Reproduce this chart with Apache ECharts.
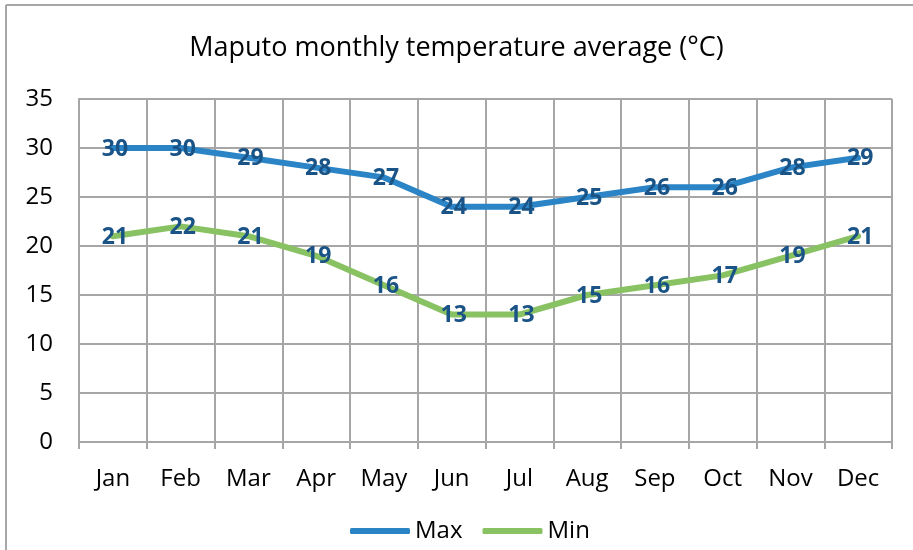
<!DOCTYPE html>
<html>
<head>
<meta charset="utf-8">
<script src="https://cdn.jsdelivr.net/npm/echarts@6/dist/echarts.min.js"></script>
<style>
  html, body { margin: 0; padding: 0; background: #fff; }
  #echarts { width: 913px; height: 550px; }
</style>
</head>
<body>
<div id="echarts"></div>
<script>
var months = ['Jan', 'Feb', 'Mar', 'Apr', 'May', 'Jun', 'Jul', 'Aug', 'Sep', 'Oct', 'Nov', 'Dec'];
var maxTemp = [30, 30, 29, 28, 27, 24, 24, 25, 26, 26, 28, 29];
var minTemp = [21, 22, 21, 19, 16, 13, 13, 15, 16, 17, 19, 21];

var font = 'Open Sans';
var myChart = echarts.init(document.getElementById('echarts'));

function lineSeries(name, data, color) {
  return {
    name: name,
    type: 'line',
    data: data,
    symbol: 'circle',
    symbolSize: 1,
    showSymbol: true,
    lineStyle: { color: color, width: 6, cap: 'round', join: 'round' },
    itemStyle: { color: color },
    label: {
      show: true,
      position: 'inside',
      offset: [2, 1],
      color: '#1A5386',
      fontFamily: font,
      fontWeight: 'bold',
      fontSize: 23
    },
    emphasis: { disabled: true }
  };
}

var myOption = {
  animation: false,
  backgroundColor: '#fff',
  title: {
    text: 'Maputo monthly temperature average (°C)',
    left: 'center',
    top: 30,
    textStyle: { fontFamily: font, fontWeight: 'normal', fontSize: 27, color: '#000' }
  },
  graphic: [
    { type: 'line', shape: { x1: 6, y1: 5, x2: 913, y2: 5 }, style: { stroke: '#a6a6a6', lineWidth: 2 } },
    { type: 'line', shape: { x1: 6, y1: 5, x2: 6, y2: 550 }, style: { stroke: '#a6a6a6', lineWidth: 2 } }
  ],
  legend: {
    bottom: 2,
    left: 345,
    itemWidth: 60,
    itemHeight: 6,
    itemGap: 20,
    icon: 'roundRect',
    textStyle: { fontFamily: font, fontSize: 24, color: '#000' },
    data: ['Max', 'Min']
  },
  grid: { left: 79, right: 21, top: 99, bottom: 108 },
  xAxis: {
    type: 'category',
    boundaryGap: true,
    data: months,
    axisLine: { lineStyle: { color: '#a6a6a6', width: 2 } },
    axisTick: { show: true, length: 7, lineStyle: { color: '#a6a6a6', width: 2 } },
    axisLabel: { fontFamily: font, fontSize: 24, color: '#000', margin: 25 },
    splitLine: { show: true, lineStyle: { color: '#a6a6a6', width: 2 } }
  },
  yAxis: {
    type: 'value',
    min: 0,
    max: 35,
    interval: 5,
    axisLine: { show: true, lineStyle: { color: '#a6a6a6', width: 2 } },
    axisTick: { show: false },
    axisLabel: { fontFamily: font, fontSize: 24, color: '#000', margin: 26 },
    splitLine: { show: true, lineStyle: { color: '#a6a6a6', width: 2 } }
  },
  series: [
    lineSeries('Max', maxTemp, '#2A84C6'),
    lineSeries('Min', minTemp, '#89C263')
  ]
};

myChart.setOption(myOption);
</script>
</body>
</html>
